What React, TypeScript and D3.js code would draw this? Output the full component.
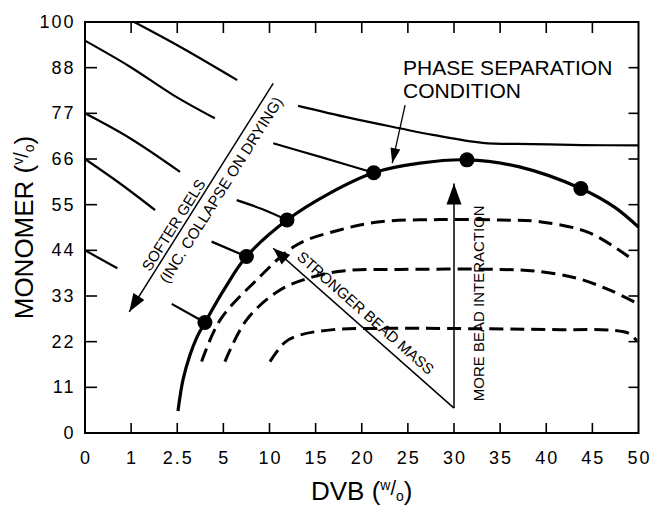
import React from "react";
import * as d3 from "d3";

// Axis ticks (the axes are stretched: each labelled value is one step apart)
const dvbTicks = [0, 1, 2.5, 5, 10, 15, 20, 25, 30, 35, 40, 45, 50];
const monomerTicks = [0, 11, 22, 33, 44, 55, 66, 77, 88, 100];

// Phase separation boundary (DVB %, monomer %)
const phaseDvb = [2.54, 2.81, 3.19, 3.57, 4.0, 5.17, 7.5, 11.9, 16.55, 21.3, 26.3, 31.4, 37.1, 43.75, 47.4, 50];
const phaseMonomer = [5.3, 12.8, 18.8, 23.1, 26.6, 34.9, 42.5, 51.3, 57.8, 62.7, 65.0, 65.8, 64.1, 58.9, 54.4, 49.6];

// Gel points lying on the boundary
const gelDvb = [4.0, 7.5, 11.9, 21.3, 31.4, 43.75];
const gelMonomer = [26.6, 42.5, 51.3, 62.7, 65.8, 58.9];

// Solid contours (softness), each broken where the "softer gels" label crosses
const softContours: [number, number][][][] = [
  [
    [[1.1, 100], [2.65, 93.5], [6.5, 85.0]],
    [[13.1, 78.8], [18.7, 75.9], [24.1, 73.4], [27.7, 71.8], [33.1, 69.9], [38.5, 69.6], [43.9, 69.35], [50, 69.3]],
  ],
  [
    [[0, 95.1], [0.975, 88.25], [2.37, 81.4], [4.54, 75.8]],
    [[10.4, 69.8], [15.5, 66.5], [21.3, 62.7]],
  ],
  [
    [[0, 77], [0.975, 71.0], [2.65, 62.9]],
    [[6.44, 56.1], [9.18, 53.95], [11.9, 51.3]],
  ],
  [
    [[0, 66], [0.76, 60.1], [1.78, 53.7]],
    [[4.36, 46.1], [7.5, 42.5]],
  ],
  [
    [[0, 44], [0.7, 39.7]],
    [[2.32, 31.1], [4.0, 26.6]],
  ],
];

// Dashed contours (bead interaction levels)
const beadContours: [number, number][][] = [
  [[3.82, 17.2], [4.82, 27.2], [8.6, 36.85], [12.94, 45.3], [17.6, 48.9], [22.0, 50.9], [28.5, 51.4], [35.0, 51.3], [39.3, 50.9], [44.7, 48.2], [49.4, 41.7]],
  [[5.17, 17.2], [7.5, 27.2], [11.1, 34.4], [14.7, 37.6], [18.2, 39.1], [24.1, 39.4], [35.0, 39.4], [38.8, 39.0], [43.3, 37.3], [46.9, 34.4], [49.8, 31.3]],
  [[10.05, 17.2], [11.7, 21.9], [13.3, 23.6], [16.9, 24.9], [22.0, 25.2], [41.5, 24.9], [47.4, 24.7], [49.1, 23.85], [49.8, 22.2]],
];

// Annotation arrows: [tail, head] in (DVB, monomer)
const softerArrow: [number, number][] = [[10.4, 84.2], [0.96, 29.2]];
const massArrow: [number, number][] = [[30, 6.0], [10.4, 44.5]];
const interactionArrow: [number, number][] = [[30, 6.0], [30, 60.1]];
const phasePointer: [number, number][] = [[24.7, 79.0], [23.3, 65.0]];

const FONT = "'Liberation Sans', Arial, Helvetica, sans-serif";

const W = 655;
const H = 507;
const left = 85;
const right = 638.5;
const top = 22;
const bottom = 433;

const x = d3
  .scaleLinear()
  .domain(dvbTicks)
  .range(dvbTicks.map((_, i) => left + (i * (right - left)) / (dvbTicks.length - 1)));
const y = d3
  .scaleLinear()
  .domain(monomerTicks)
  .range(monomerTicks.map((_, i) => bottom - (i * (bottom - top)) / (monomerTicks.length - 1)));

const curve = d3
  .line<[number, number]>()
  .x((d) => x(d[0]))
  .y((d) => y(d[1]))
  .curve(d3.curveCatmullRom.alpha(0.5));

const px = (d: [number, number]): [number, number] => [x(d[0]), y(d[1])];

function head(tip: [number, number], from: [number, number], len: number, half: number) {
  const dx = tip[0] - from[0];
  const dy = tip[1] - from[1];
  const l = Math.hypot(dx, dy);
  const ux = dx / l;
  const uy = dy / l;
  const bx = tip[0] - ux * len;
  const by = tip[1] - uy * len;
  return `M${tip[0]},${tip[1]}L${bx - uy * half},${by + ux * half}L${bx + uy * half},${by - ux * half}Z`;
}

// Position of a label that runs along a segment p0 -> p1
function along(p0: [number, number], p1: [number, number], dist: number, offset: number) {
  const dx = p1[0] - p0[0];
  const dy = p1[1] - p0[1];
  const l = Math.hypot(dx, dy);
  const ux = dx / l;
  const uy = dy / l;
  const upx = uy;
  const upy = -ux;
  return {
    x: p0[0] + ux * dist + upx * offset,
    y: p0[1] + uy * dist + upy * offset,
    angle: (Math.atan2(uy, ux) * 180) / Math.PI,
  };
}

function Arrow({ seg, len, half, width }: { seg: [number, number][]; len: number; half: number; width: number }) {
  const a = px(seg[0]);
  const b = px(seg[1]);
  return (
    <g>
      <line x1={a[0]} y1={a[1]} x2={b[0]} y2={b[1]} stroke="#000" strokeWidth={width} />
      <path d={head(b, a, len, half)} fill="#000" />
    </g>
  );
}

export default function App() {
  const phase = phaseDvb.map((d, i) => [d, phaseMonomer[i]] as [number, number]);

  const sTip = px(softerArrow[1]);
  const sTail = px(softerArrow[0]);
  const softer1 = along(sTip, sTail, 97, 9);
  const softer2 = along(sTip, sTail, 152, -12.5);

  const mTip = px(massArrow[1]);
  const mTail = px(massArrow[0]);
  const mass = along(mTip, mTail, 112, 13);

  const iTail = px(interactionArrow[0]);
  const iTip = px(interactionArrow[1]);

  const pStart = px(phasePointer[0]);

  const tickFont = 18;
  const ls = 2;

  return (
    <svg
      width={W}
      height={H}
      viewBox={`0 0 ${W} ${H}`}
      style={{ position: "absolute", left: 0, top: 0, background: "#fff" }}
      fontFamily={FONT}
    >
      <rect x={0} y={0} width={W} height={H} fill="#fff" />

      {/* frame */}
      <rect x={left} y={top} width={right - left} height={bottom - top} fill="none" stroke="#000" strokeWidth={2} />

      {/* x ticks (bottom and top, pointing inward) */}
      {dvbTicks.slice(1, -1).map((t) => (
        <g key={`xt${t}`}>
          <line x1={x(t)} x2={x(t)} y1={bottom} y2={bottom - 10} stroke="#000" strokeWidth={1.6} />
          <line x1={x(t)} x2={x(t)} y1={top} y2={top + 11} stroke="#000" strokeWidth={1.6} />
        </g>
      ))}
      {/* y ticks (left and right, pointing inward) */}
      {monomerTicks.slice(1, -1).map((t) => (
        <g key={`yt${t}`}>
          <line x1={left} x2={left + 12} y1={y(t)} y2={y(t)} stroke="#000" strokeWidth={1.6} />
          <line x1={right} x2={right - 10} y1={y(t)} y2={y(t)} stroke="#000" strokeWidth={1.6} />
        </g>
      ))}

      {/* tick labels */}
      {dvbTicks.map((t) => (
        <text
          key={`xl${t}`}
          x={x(t) + ls / 2}
          y={463.5}
          textAnchor="middle"
          fontSize={tickFont}
          letterSpacing={ls}
        >
          {t}
        </text>
      ))}
      {monomerTicks.map((t) => (
        <text
          key={`yl${t}`}
          x={73.5 + ls}
          y={y(t)}
          textAnchor="end"
          dominantBaseline="central"
          fontSize={tickFont}
          letterSpacing={ls}
        >
          {t}
        </text>
      ))}

      {/* axis titles */}
      <text x={(left + right) / 2} y={500} textAnchor="middle" fontSize={26}>
        DVB (
        <tspan fontSize={14} dy={-10}>w</tspan>
        <tspan fontSize={20} dy={5}>/</tspan>
        <tspan fontSize={14} dy={6}>o</tspan>
        <tspan dy={-1}>)</tspan>
      </text>
      <text transform={`translate(33, ${(top + bottom) / 2}) rotate(-90)`} textAnchor="middle" fontSize={26}>
        MONOMER (
        <tspan fontSize={14} dy={-10}>v</tspan>
        <tspan fontSize={20} dy={5}>/</tspan>
        <tspan fontSize={14} dy={6}>o</tspan>
        <tspan dy={-1}>)</tspan>
      </text>

      {/* solid contours */}
      {softContours.map((c, i) =>
        c.map((seg, j) => (
          <path key={`sc${i}-${j}`} d={curve(seg) ?? ""} fill="none" stroke="#000" strokeWidth={2.2} />
        ))
      )}

      {/* dashed contours */}
      {beadContours.map((c, i) => (
        <path
          key={`bc${i}`}
          d={curve(c) ?? ""}
          fill="none"
          stroke="#000"
          strokeWidth={3}
          strokeDasharray="14,7"
        />
      ))}

      {/* phase separation boundary */}
      <path d={curve(phase) ?? ""} fill="none" stroke="#000" strokeWidth={3.2} />
      {gelDvb.map((d, i) => (
        <circle key={`g${i}`} cx={x(d)} cy={y(gelMonomer[i])} r={7.5} fill="#000" />
      ))}

      {/* softer gels arrow */}
      <Arrow seg={softerArrow} len={18} half={6.5} width={1.5} />
      <text
        transform={`translate(${softer1.x},${softer1.y}) rotate(${softer1.angle})`}
        textAnchor="middle"
        dominantBaseline="central"
        fontSize={15}
      >
        SOFTER GELS
      </text>
      <text
        transform={`translate(${softer2.x},${softer2.y}) rotate(${softer2.angle})`}
        textAnchor="middle"
        dominantBaseline="central"
        fontSize={15.3}
      >
        (INC. COLLAPSE ON DRYING)
      </text>

      {/* bead mass / interaction arrows */}
      <Arrow seg={massArrow} len={17} half={6.5} width={1.5} />
      <text
        transform={`translate(${mass.x},${mass.y}) rotate(${mass.angle})`}
        textAnchor="middle"
        dominantBaseline="central"
        fontSize={15}
      >
        STRONGER BEAD MASS
      </text>
      <Arrow seg={interactionArrow} len={21} half={7.5} width={1.5} />
      <text
        transform={`translate(${iTail[0] + 24.5},${(iTail[1] + iTip[1]) / 2 + 7.5}) rotate(-90)`}
        textAnchor="middle"
        dominantBaseline="central"
        fontSize={15}
      >
        MORE BEAD INTERACTION
      </text>

      {/* phase separation label and pointer */}
      <Arrow seg={phasePointer} len={15} half={5} width={1.3} />
      <text x={pStart[0] - 2} y={pStart[1] - 30} fontSize={21}>
        PHASE SEPARATION
      </text>
      <text x={pStart[0] - 2} y={pStart[1] - 6.7} fontSize={21}>
        CONDITION
      </text>
    </svg>
  );
}
